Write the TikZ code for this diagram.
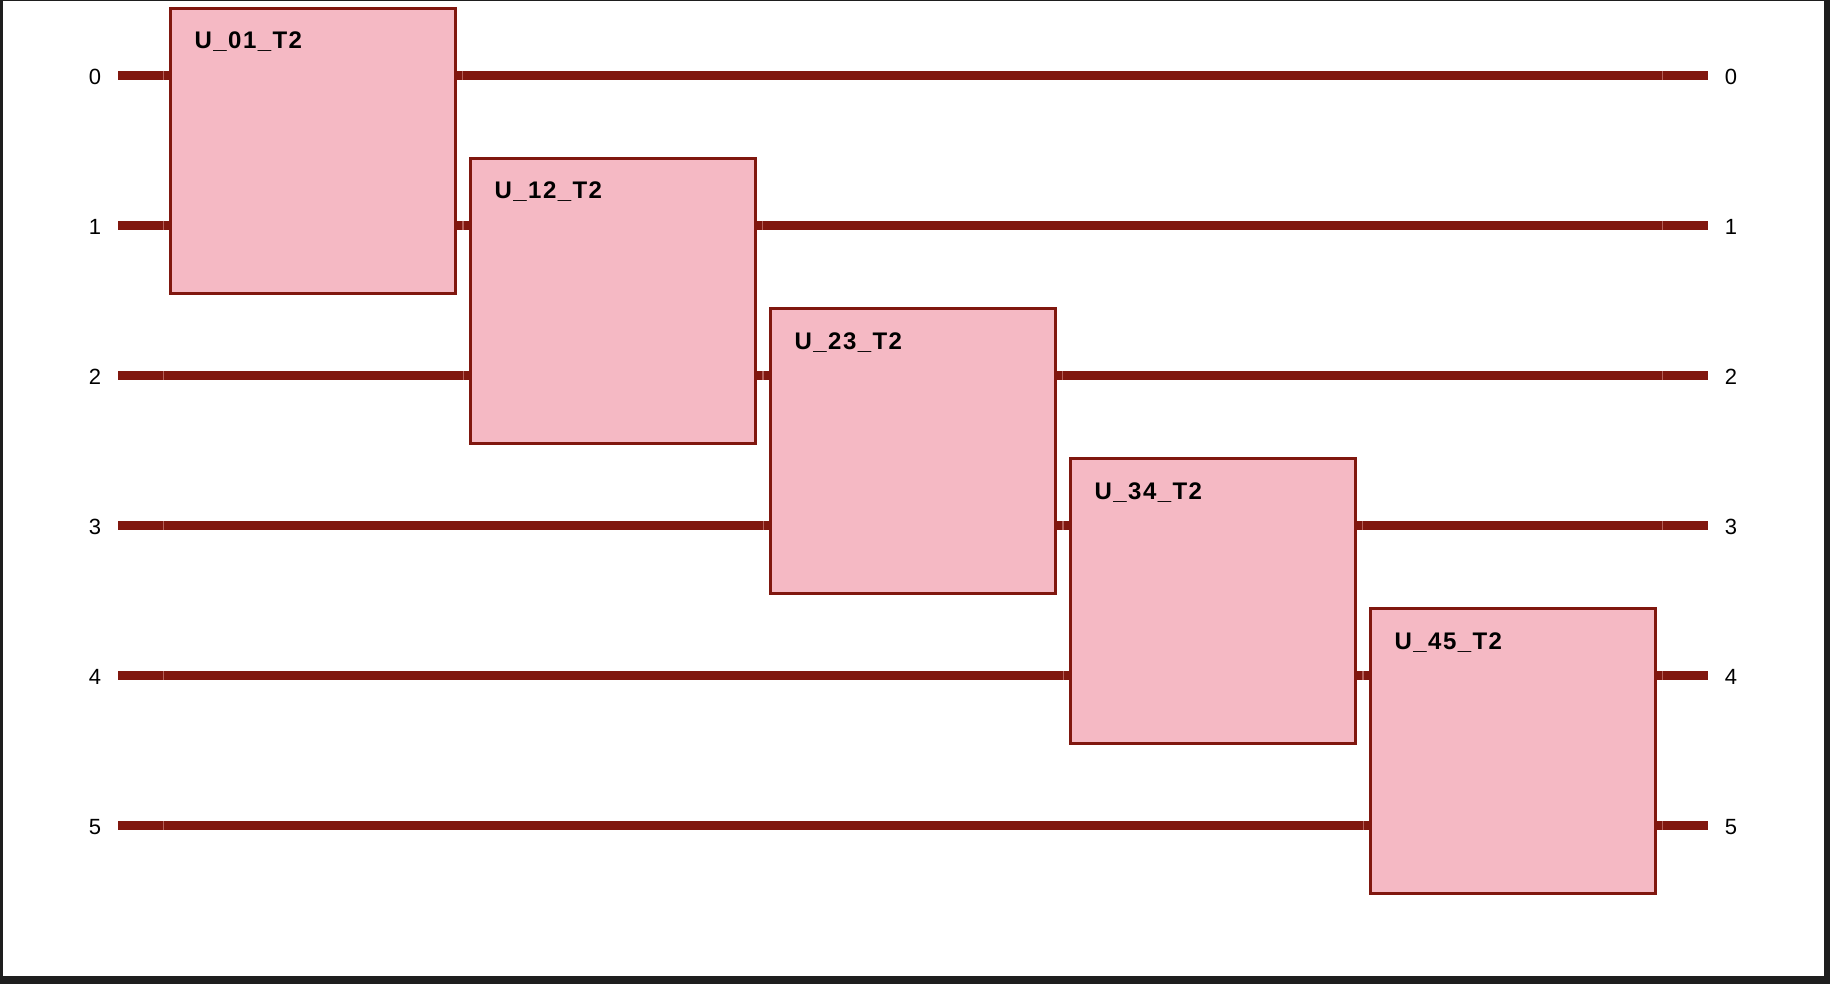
\documentclass[tikz,border=0pt]{standalone}
\usepackage{fontspec}
\setmainfont{Liberation Sans}
\newfontfamily\gatefont[LetterSpace=6]{Liberation Sans}
\definecolor{wirered}{HTML}{80170F}
\definecolor{gatepink}{HTML}{F5B9C4}
\definecolor{jointred}{HTML}{B4605A}
\definecolor{framedark}{HTML}{1E1E1E}
\begin{document}
\begin{tikzpicture}[x=1pt,y=-1pt,
  wire/.style={draw=wirered,line width=9pt},
  gate/.style={draw=wirered,fill=gatepink,line width=3pt,minimum width=285pt,minimum height=285pt,inner sep=0pt,outer sep=0pt,anchor=north west},
  joint/.style={draw=jointred,line width=1pt},
  wlabel/.style={font=\fontsize{22}{26}\selectfont,inner sep=0pt},
  glabel/.style={font=\gatefont\bfseries\fontsize{24}{28}\selectfont,anchor=base west,inner sep=0pt}]
\fill[framedark] (0,0) rectangle (1830,984);
\fill[white] (3,1) rectangle (1824,976);
\useasboundingbox (0,0) rectangle (1830,984);
% wires and labels
\foreach \k in {0,...,5}{
  \coordinate (ws\k) at (118,{75.5+150*\k});
  \coordinate (we\k) at (1708,{75.5+150*\k});
  \draw[wire] (ws\k) -- (we\k);
  \node[wlabel] (li\k) at (95,{77+150*\k}) {\k};
  \node[wlabel] (lo\k) at (1731,{77+150*\k}) {\k};
  \draw[joint] (163.5,{71+150*\k}) -- (163.5,{80+150*\k});
  \draw[joint] (1662.5,{71+150*\k}) -- (1662.5,{80+150*\k});
}
% segment joints next to gates
\foreach \k in {0,...,4}{
  \foreach \w in {0,1}{
    \draw[joint] ({163.5+300*\k},{71+150*(\k+\w)}) -- ({163.5+300*\k},{80+150*(\k+\w)});
    \draw[joint] ({462.5+300*\k},{71+150*(\k+\w)}) -- ({462.5+300*\k},{80+150*(\k+\w)});
  }
}
% gates
\foreach \k/\name in {0/U\_01\_T2,1/U\_12\_T2,2/U\_23\_T2,3/U\_34\_T2,4/U\_45\_T2}{
  \node[gate] (g\k) at ({170.5+300*\k},{8.5+150*\k}) {};
  \node[glabel] (t\k) at ({194.5+300*\k},{49+150*\k}) {\name};
}
\end{tikzpicture}
\end{document}
